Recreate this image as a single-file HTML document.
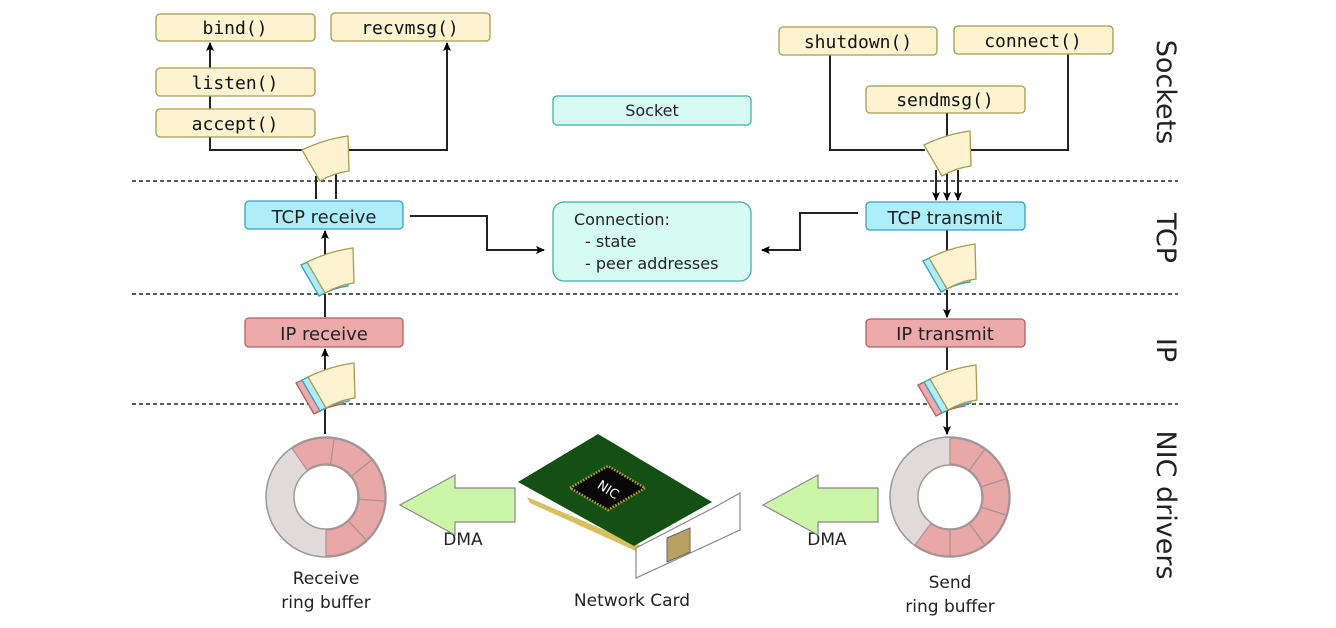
<!DOCTYPE html>
<html><head><meta charset="utf-8"><style>
html,body{margin:0;padding:0;background:#fff;}
svg{display:block}
.m{font-family:"DejaVu Sans Mono","Liberation Mono",monospace;font-size:18px;fill:#111}
.s{font-family:"DejaVu Sans","Liberation Sans",sans-serif;font-size:17px;fill:#222}
</style></head><body>
<svg width="1336" height="628" viewBox="0 0 1336 628" xmlns="http://www.w3.org/2000/svg">
<defs>
<marker id="ah" markerWidth="10" markerHeight="10" refX="8" refY="5" orient="auto" markerUnits="userSpaceOnUse">
<path d="M0,1 L9,5 L0,9 L2,5 Z" fill="#000"/></marker>
<path id="pk" d="M0,0 L-18,-31 Q5,-42 28,-45 L29,-10 Q14,-8 0,0 Z"/>
</defs>
<g stroke="#222" stroke-width="1.6" stroke-dasharray="4,3">
<line x1="132" y1="181" x2="1178" y2="181"/><line x1="132" y1="294" x2="1178" y2="294"/><line x1="132" y1="404" x2="1178" y2="404"/>
</g>
<g stroke="#222" stroke-width="2" fill="none">
<line x1="210" y1="68" x2="210" y2="43" marker-end="url(#ah)"/>
<line x1="210" y1="96" x2="210" y2="109"/>
<polyline points="210,137 210,150 310,150"/>
<polyline points="345,150 447,150 447,43" marker-end="url(#ah)"/>
<line x1="316" y1="176" x2="316" y2="199"/><line x1="336" y1="170" x2="336" y2="199"/>
<polyline points="830,55 830,150 925,150"/>
<polyline points="1068,54 1068,150 968,150"/>
<line x1="947" y1="113" x2="947" y2="138"/>
<line x1="936" y1="170" x2="936" y2="200" marker-end="url(#ah)"/>
<line x1="947" y1="170" x2="947" y2="200" marker-end="url(#ah)"/>
<line x1="958" y1="170" x2="958" y2="200" marker-end="url(#ah)"/>
<polyline points="410,216 487,216 487,250 544,250" marker-end="url(#ah)"/>
<polyline points="858,213 800,213 800,250 762,250" marker-end="url(#ah)"/>
<line x1="325" y1="262" x2="325" y2="231" marker-end="url(#ah)"/>
<line x1="325" y1="317" x2="325" y2="294"/>
<line x1="325" y1="375" x2="325" y2="349" marker-end="url(#ah)"/>
<line x1="325" y1="434" x2="325" y2="404"/>
<line x1="947" y1="230" x2="947" y2="255"/>
<line x1="947" y1="290" x2="947" y2="317" marker-end="url(#ah)"/>
<line x1="947" y1="347" x2="947" y2="370"/>
<line x1="947" y1="410" x2="947" y2="434" marker-end="url(#ah)"/>
</g>
<g stroke-width="1.3">
<use href="#pk" x="320" y="181" fill="#fdf3d0" stroke="#a89a50"/>
<use href="#pk" x="942" y="176" fill="#fdf3d0" stroke="#a89a50"/>
<use href="#pk" x="319" y="296" fill="#aeeefb" stroke="#3a9fc0"/><use href="#pk" x="325" y="293" fill="#fdf3d0" stroke="#a89a50"/>
<use href="#pk" x="941" y="292" fill="#aeeefb" stroke="#3a9fc0"/><use href="#pk" x="947" y="289" fill="#fdf3d0" stroke="#a89a50"/>
<use href="#pk" x="314" y="414" fill="#ecaaaa" stroke="#b06060"/><use href="#pk" x="320" y="411" fill="#aeeefb" stroke="#3a9fc0"/><use href="#pk" x="326" y="408" fill="#fdf3d0" stroke="#a89a50"/>
<use href="#pk" x="936" y="416" fill="#ecaaaa" stroke="#b06060"/><use href="#pk" x="942" y="413" fill="#aeeefb" stroke="#3a9fc0"/><use href="#pk" x="948" y="410" fill="#fdf3d0" stroke="#a89a50"/>
</g>
<g fill="#fdf3d0" stroke="#a89a50" stroke-width="1.3">
<rect x="156" y="14" width="159" height="27" rx="4"/>
<rect x="331" y="13" width="159" height="28" rx="4"/>
<rect x="156" y="68" width="159" height="28" rx="4"/>
<rect x="156" y="109" width="159" height="28" rx="4"/>
<rect x="779" y="27" width="158" height="28" rx="4"/>
<rect x="954" y="26" width="159" height="28" rx="4"/>
<rect x="866" y="86" width="159" height="27" rx="4"/>
</g>
<rect x="553" y="96" width="198" height="29" rx="4" fill="#d5fbf2" stroke="#40b0a0" stroke-width="1.3"/>
<rect x="553" y="202" width="198" height="79" rx="11" fill="#d5fbf2" stroke="#40b0a0" stroke-width="1.3"/>
<rect x="245" y="201" width="158" height="28" rx="4" fill="#aeeefb" stroke="#3a9fc0" stroke-width="1.3"/>
<rect x="866" y="202" width="159" height="28" rx="4" fill="#aeeefb" stroke="#3a9fc0" stroke-width="1.3"/>
<rect x="245" y="318" width="158" height="29" rx="4" fill="#ecaaaa" stroke="#b06060" stroke-width="1.3"/>
<rect x="866" y="319" width="159" height="28" rx="4" fill="#ecaaaa" stroke="#b06060" stroke-width="1.3"/>
<g text-anchor="middle">
<text class="m" x="235" y="34">bind()</text>
<text class="m" x="410" y="34">recvmsg()</text>
<text class="m" x="235" y="89">listen()</text>
<text class="m" x="235" y="130">accept()</text>
<text class="m" x="858" y="48">shutdown()</text>
<text class="m" x="1033" y="47">connect()</text>
<text class="m" x="945" y="106">sendmsg()</text>
<text class="s" x="652" y="116" style="font-size:16px">Socket</text>
<text class="s" x="324" y="223" style="font-size:18px">TCP receive</text>
<text class="s" x="945" y="224" style="font-size:18px">TCP transmit</text>
<text class="s" x="324" y="340" style="font-size:18px">IP receive</text>
<text class="s" x="945" y="340" style="font-size:18px">IP transmit</text>
<text class="s" x="326" y="584">Receive</text>
<text class="s" x="326" y="608">ring buffer</text>
<text class="s" x="632" y="606">Network Card</text>
<text class="s" x="950" y="588">Send</text>
<text class="s" x="950" y="612">ring buffer</text>
<text class="s" x="463" y="545">DMA</text>
<text class="s" x="827" y="545">DMA</text>
</g>
<text class="s" x="574" y="225" style="font-size:16px">Connection:</text>
<text class="s" x="585" y="247" style="font-size:16px">- state</text>
<text class="s" x="585" y="269" style="font-size:16px">- peer addresses</text>
<g class="s" text-anchor="middle" style="font-size:27px">
<text transform="translate(1157,92) rotate(90)">Sockets</text>
<text transform="translate(1157,238) rotate(90)">TCP</text>
<text transform="translate(1157,350) rotate(90)">IP</text>
<text transform="translate(1157,505) rotate(90)">NIC drivers</text>
</g>
<g stroke="#999" stroke-width="1.5">
<circle cx="326" cy="497" r="60" fill="#e2dada"/><circle cx="326" cy="497" r="32" fill="#fff"/>
<circle cx="950" cy="497" r="60" fill="#e2dada"/><circle cx="950" cy="497" r="32" fill="#fff"/>
</g>
<g id="rings" fill="#e8a8a8" stroke="#b09090" stroke-width="1.2"></g>
<path d="M400,505 L455,475 L455,488 L515,488 L515,522 L455,522 L455,535 Z" fill="#ccf5a8" stroke="#888" stroke-width="1.2"/>
<path d="M763,505 L818,475 L818,488 L878,488 L878,522 L818,522 L818,535 Z" fill="#ccf5a8" stroke="#888" stroke-width="1.2"/>
<polygon points="527,497 530,503 640,553 642,546" fill="#d8c060"/>
<polygon points="518,482 598,434 712,502 634,546" fill="#145014"/>
<polygon points="636,548 715,507 740,493 740,530 636,578" fill="#fff" stroke="#888" stroke-width="1.2"/>
<polygon points="570,488 608,466 645,488 608,510" fill="#080808" stroke="#c0a030" stroke-width="2.5" stroke-dasharray="1.5,1.5"/>
<text x="608" y="494" font-family="DejaVu Sans,sans-serif" font-size="13" fill="#fff" text-anchor="middle" transform="rotate(33 608 490)">NIC</text>
<polygon points="667,538 690,528 690,552 667,562" fill="#b8a060" stroke="#666"/>
</svg>
<script>
(function(){
var g=document.getElementById('rings'),ns='http://www.w3.org/2000/svg';
function seg(cx,cy,a0,a1){var R=59,r=33,p=function(a,rr){var t=(a-90)*Math.PI/180;return (cx+rr*Math.cos(t)).toFixed(1)+','+(cy+rr*Math.sin(t)).toFixed(1);};
var e=document.createElementNS(ns,'path');e.setAttribute('d','M'+p(a0,R)+' A59,59 0 0 1 '+p(a1,R)+' L'+p(a1,r)+' A33,33 0 0 0 '+p(a0,r)+' Z');g.appendChild(e);}
for(var i=0;i<5;i++)seg(326,497,-35+i*43,-35+(i+1)*43);
for(var j=0;j<6;j++)seg(950,497,j*36,(j+1)*36);
})();
</script>
</body></html>
